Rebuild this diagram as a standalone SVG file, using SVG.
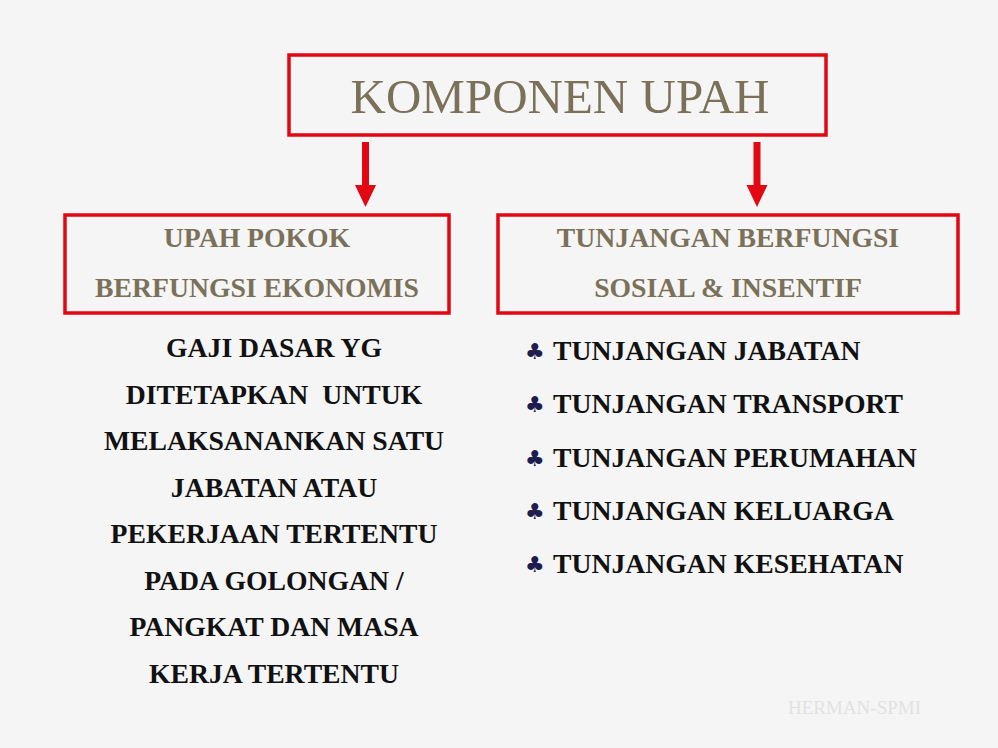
<svg xmlns="http://www.w3.org/2000/svg" width="998" height="748" viewBox="0 0 998 748">
<style>
.box{fill:none;stroke:#e30613;stroke-width:3.5}
.title{font-family:"Liberation Serif",serif;font-size:49px;fill:#7b7159;text-anchor:middle}
.hdr{font-family:"Liberation Serif",serif;font-weight:bold;font-size:27.7px;fill:#7b7159;text-anchor:middle}
.body{font-family:"Liberation Serif",serif;font-weight:bold;font-size:27.7px;fill:#111;text-anchor:middle}
.item{font-family:"Liberation Serif",serif;font-weight:bold;font-size:27.7px;fill:#111}
.bul{font-family:"DejaVu Sans",sans-serif;font-size:22px;fill:#1c1c4e}
.arrow{fill:#e30613}
.wm{font-family:"Liberation Serif",serif;font-size:19px;fill:#e2e2e2}
</style>
<rect width="998" height="748" fill="#f5f5f5"/>
<g id="komponen-upah">
<rect class="box" x="289" y="55" width="537" height="80"/>
<text class="title" x="560" y="113">KOMPONEN UPAH</text>
</g>
<g id="connectors">
<path class="arrow" d="M362,142 H369 V185 H376 L365.5,207 L355,185 H362 Z"/>
<path class="arrow" d="M753.5,142 H760.5 V185 H767.5 L757,207 L746.5,185 H753.5 Z"/>
</g>
<g id="upah-pokok">
<rect class="box" x="65" y="215" width="384" height="98"/>
<text class="hdr" x="257" y="247">UPAH POKOK</text>
<text class="hdr" x="257" y="297">BERFUNGSI EKONOMIS</text>
</g>
<g id="tunjangan">
<rect class="box" x="498" y="215" width="460" height="98"/>
<text class="hdr" x="728" y="247">TUNJANGAN BERFUNGSI</text>
<text class="hdr" x="728" y="297">SOSIAL &amp; INSENTIF</text>
</g>
<g id="upah-pokok-desc">
<text class="body" x="274" y="357">GAJI DASAR YG</text>
<text class="body" x="274" y="403.6" xml:space="preserve">DITETAPKAN  UNTUK</text>
<text class="body" x="274" y="450">MELAKSANANKAN SATU</text>
<text class="body" x="274" y="496.6">JABATAN ATAU</text>
<text class="body" x="274" y="543">PEKERJAAN TERTENTU</text>
<text class="body" x="274" y="589.6">PADA GOLONGAN /</text>
<text class="body" x="274" y="636.2">PANGKAT DAN MASA</text>
<text class="body" x="274" y="682.8">KERJA TERTENTU</text>
</g>
<g id="tunjangan-list">
<text class="bul" x="525" y="359">♣</text>
<text class="item" x="553" y="360">TUNJANGAN JABATAN</text>
<text class="bul" x="525" y="412">♣</text>
<text class="item" x="553" y="413">TUNJANGAN TRANSPORT</text>
<text class="bul" x="525" y="466">♣</text>
<text class="item" x="553" y="467">TUNJANGAN PERUMAHAN</text>
<text class="bul" x="525" y="519">♣</text>
<text class="item" x="553" y="520">TUNJANGAN KELUARGA</text>
<text class="bul" x="525" y="572">♣</text>
<text class="item" x="553" y="573">TUNJANGAN KESEHATAN</text>
</g>
<text class="wm" x="788" y="714">HERMAN-SPMI</text>
</svg>
